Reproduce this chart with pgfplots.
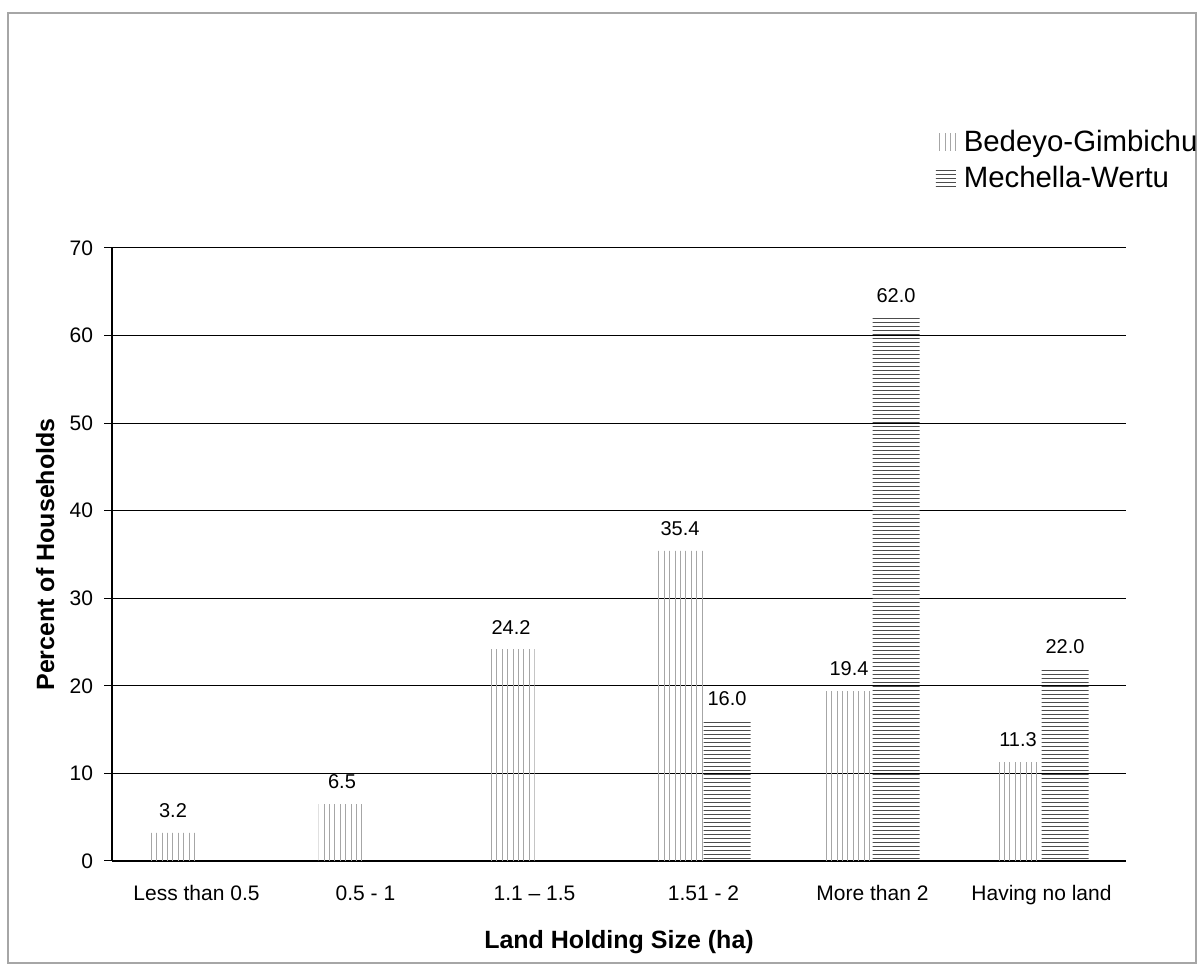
\documentclass[border=0pt]{standalone}
\usepackage{fontspec}
\setmainfont{Liberation Sans}
\usepackage{pgfplots}
\pgfplotsset{compat=1.18}
\usetikzlibrary{patterns.meta}
\begin{document}
\begin{tikzpicture}
\useasboundingbox (-56pt,-53pt) rectangle (545pt,430.5pt);
\draw[gray!70,line width=0.6pt] (-52pt,-51pt) rectangle (542pt,424pt);
\begin{axis}[
  at={(0pt,0pt)}, anchor=south west,
  scale only axis, width=507pt, height=306.5pt,
  ybar=0pt, bar width=23.5pt,
  xmin=-0.5, xmax=5.5, ymin=0, ymax=70,
  ytick={0,10,...,70},
  xtick={0,1,2,3,4,5},
  xticklabels={Less than 0.5,0.5 - 1,1.1 -- 1.5,1.51 - 2,More than 2,Having no land},
  major x tick style={draw=none},
  extra x ticks={-0.5,0.5,1.5,2.5,3.5,4.5,5.5},
  extra x tick labels={},
  extra x tick style={major tick length=4pt, tick style={black,line width=0.5pt}},
  axis x line*=bottom, axis y line*=left,
  axis line style={black,line width=0.6pt,-},
  tick align=outside, major tick length=4pt,
  tick style={black,line width=0.5pt},
  ymajorgrids, grid style={black,line width=0.5pt},
  /pgf/number format/assume math mode=true,
  tick label style={font=\fontsize{10.5}{12}\selectfont},
  xticklabel style={yshift=-4pt,text height=8pt,text depth=2pt},
  yticklabel style={xshift=-2pt},
  xlabel={Land Holding Size (ha)},
  ylabel={Percent of Households},
  label style={font=\bfseries\fontsize{12.5}{14}\selectfont},
  xlabel style={at={(axis description cs:0.5,-0.132)},anchor=center},
  ylabel style={at={(axis description cs:-0.066,0.5)},anchor=center},
  nodes near coords,
  nodes near coords style={font=\fontsize{10}{12}\selectfont,yshift=4pt,
    /pgf/number format/fixed,/pgf/number format/fixed zerofill,
    /pgf/number format/precision=1,/pgf/number format/assume math mode=true},
  legend style={draw=none,fill=none,at={(0.812,1.2)},anchor=north west,
    font=\fontsize{14.7}{17}\selectfont,row sep=2pt,inner sep=0pt,
    nodes={inner xsep=4pt}},
  legend cell align=left,
  legend image code/.code={\fill[#1] (0pt,-4.5pt) rectangle (10pt,4.5pt);},
]
\addplot[draw=none,pattern={Lines[angle=90,distance=2.7pt,line width=0.5pt]},pattern color=black!35]
  coordinates {(0,3.2) (1,6.5) (2,24.2) (3,35.4) (4,19.4) (5,11.3)};
\addlegendentry{Bedeyo-Gimbichu}
\addplot[draw=none,pattern={Lines[angle=0,distance=2pt,line width=0.5pt]},pattern color=black!70]
  coordinates {(3,16.0) (4,62.0) (5,22.0)};
\addlegendentry{Mechella-Wertu}
\end{axis}
\end{tikzpicture}
\end{document}
